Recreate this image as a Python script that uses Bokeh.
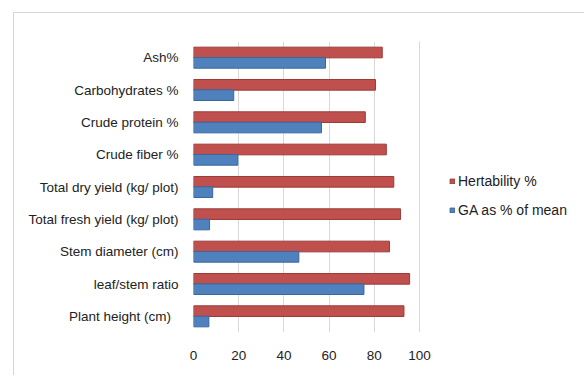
from bokeh.plotting import figure
from bokeh.models import ColumnDataSource, Legend, LegendItem, FactorRange
from bokeh.transform import dodge
from bokeh.embed import file_html
from bokeh.resources import INLINE

categories = ["Plant  height  (cm)", "leaf/stem ratio", "Stem diameter (cm)",
              "Total fresh yield (kg/ plot)", "Total dry yield (kg/ plot)",
              "Crude fiber %", "Crude protein %", "Carbohydrates %", "Ash%"]
heritability = [93.1, 95.6, 86.7, 91.6, 88.6, 85.3, 76.0, 80.5, 83.5]
ga_mean = [6.8, 75.4, 46.6, 7.1, 8.5, 19.6, 56.6, 17.8, 58.4]
series_names = ["Hertability %", "GA as % of mean"]
x_ticks = [0, 20, 40, 60, 80, 100]

src = ColumnDataSource(dict(cat=categories, her=heritability, ga=ga_mean))

# the frame extends to the right so that the legend (drawn inside it) is not clipped
p = figure(y_range=FactorRange(factors=categories, range_padding=0), x_range=(0, 171.2),
           width=571, height=363, output_backend="svg", toolbar_location=None,
           min_border_left=179, min_border_right=5, min_border_top=28,
           min_border_bottom=44)
p.styles = {"margin-left": "13px", "margin-top": "12px",
            "border-left": "1px solid #d6d6d6", "border-top": "1px solid #d6d6d6"}

r1 = p.hbar(y=dodge("cat", 0.16, range=p.y_range), right="her", left=0, height=0.33,
            source=src, fill_color="#C0504D", line_color="#9A3B38", line_width=1)
r2 = p.hbar(y=dodge("cat", -0.16, range=p.y_range), right="ga", left=0, height=0.33,
            source=src, fill_color="#4F81BD", line_color="#3A669C", line_width=1)

p.outline_line_color = None
p.ygrid.grid_line_color = None
p.xgrid.grid_line_color = "#d9d9d9"
p.xaxis.ticker = x_ticks
p.xaxis.axis_line_color = None
p.yaxis.axis_line_color = None
p.xaxis.major_tick_line_color = None
p.yaxis.major_tick_line_color = None
p.xaxis.minor_tick_line_color = None
p.xaxis.major_label_standoff = 12
p.yaxis.major_label_standoff = 9
for ax in (p.xaxis, p.yaxis):
    ax.major_label_text_font = "Liberation Sans"
    ax.major_label_text_font_size = "13.5px"
    ax.major_label_text_color = "#222222"

legend = Legend(items=[LegendItem(label=series_names[0], renderers=[r1]),
                       LegendItem(label=series_names[1], renderers=[r2])],
                location=(256, 114), orientation="vertical")
legend.border_line_color = None
legend.background_fill_alpha = 0
legend.glyph_width = 6
legend.glyph_height = 6
legend.label_standoff = 3
legend.spacing = 13
legend.padding = 0
legend.margin = 0
legend.label_text_font = "Liberation Sans"
legend.label_text_font_size = "14px"
legend.label_text_color = "#222222"
legend.label_height = 15
p.add_layout(legend, "center")

open("out.html", "w").write(file_html(p, INLINE))
